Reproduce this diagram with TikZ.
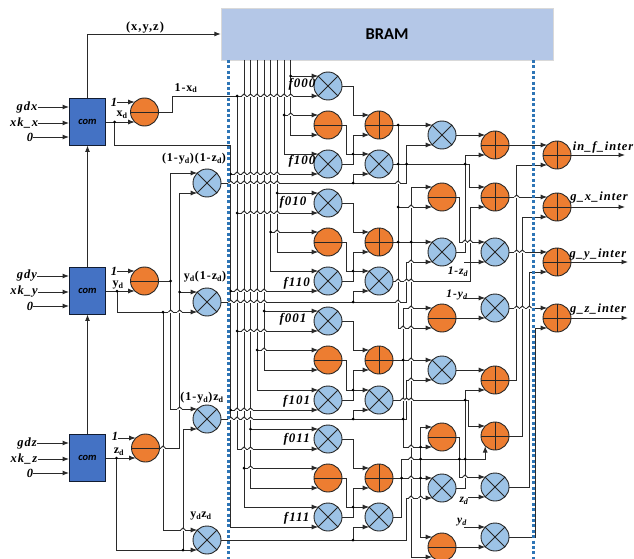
\documentclass[tikz,border=0pt]{standalone}
\usepackage{fontspec}
\setmainfont{Liberation Serif}
\newfontfamily\labfont[LetterSpace=8]{Liberation Serif}
\newfontfamily\carfont{Carlito}
\usetikzlibrary{arrows.meta}
\definecolor{bluec}{HTML}{9DC3E6}
\definecolor{orangec}{HTML}{ED7D31}
\definecolor{comc}{HTML}{4472C4}
\definecolor{bramc}{HTML}{B4C7E7}
\definecolor{dashc}{HTML}{2E75B6}
\definecolor{wirec}{HTML}{2A2A2A}
\tikzset{
  wire/.style={draw=wirec,line width=0.95pt},
  arr/.style={wire,-{Latex[length=6.5pt,width=5pt]}},
  round/.style={circle,draw=black!85,line width=0.9pt,minimum size=28pt,inner sep=0pt},
  mulc/.style={round,fill=bluec,path picture={
    \draw[black!85,line width=0.9pt] (path picture bounding box.north west)--(path picture bounding box.south east)
    (path picture bounding box.north east)--(path picture bounding box.south west);}},
  subc/.style={round,fill=orangec,path picture={
    \draw[black!85,line width=0.9pt] (path picture bounding box.west)--(path picture bounding box.east);}},
  addc/.style={round,fill=orangec,path picture={
    \draw[black!85,line width=0.9pt] (path picture bounding box.west)--(path picture bounding box.east)
    (path picture bounding box.north)--(path picture bounding box.south);}},
  combox/.style={rectangle,draw=black!75!comc,fill=comc,line width=0.9pt,minimum width=36pt,minimum height=47pt,inner sep=0pt,
     font=\carfont\bfseries\itshape\fontsize{10.5}{12}\selectfont},
  bdash/.style={draw=dashc,line width=2.1pt,dash pattern=on 3pt off 2.4pt},
  jn/.style={circle,fill=black,inner sep=0pt,minimum size=3pt},
  lab/.style={inner sep=0pt,font=\labfont\bfseries\itshape\fontsize{12.5}{14}\selectfont},
  flab/.style={inner sep=0pt,font=\labfont\bfseries\itshape\fontsize{13}{14}\selectfont},
  wlab/.style={inner sep=0pt,font=\labfont\bfseries\fontsize{12}{14}\selectfont},
  smalllab/.style={inner sep=0pt,font=\labfont\bfseries\itshape\fontsize{11.5}{13}\selectfont},
}
\newcommand{\unit}[4]{%
  \node[#1] (#2) at (#3,#4) {};
  \coordinate (#2-u) at (#3-9.8,#4-10);
  \coordinate (#2-l) at (#3-9.8,#4+10);}
\newcommand{\hops}[2]{\foreach \hx in {#2}{%
  \fill[white] (\hx-2.3,#1-0.8) rectangle (\hx+2.3,#1+0.8);
  \draw[wire] (\hx-2.3,#1) .. controls (\hx-1.5,#1-2.6) and (\hx+1.5,#1-2.6) .. (\hx+2.3,#1);}}
\newcommand{\sbd}{\textsubscript{d}}
\newcommand{\group}[5]{%
  \draw[arr] (#1.east) -| (xj |- #4-u) -- (#4-u);
  \draw[arr] (#2.east) -| (xk |- #5-u) -- (#5-u);
  \draw[arr] (#3.east) -| (xj |- #4-l) -- (#4-l);
  \node[jn,minimum size=2.6pt] at (xj |- #5-u) {};}
\begin{document}
\begin{tikzpicture}[x=1pt,y=-1pt]
\useasboundingbox (0,0) rectangle (634,559);
% BRAM
\node[rectangle,draw=black!15,fill=bramc,minimum width=332pt,minimum height=52pt,inner sep=0pt,
  font=\carfont\bfseries\fontsize{16.5}{18}\selectfont] (bram) at (387,34) {BRAM};
\coordinate (dl) at (228.5,60); \coordinate (dle) at (228.5,559);
\coordinate (dr) at (533.5,60); \coordinate (dre) at (533.5,559);
% com blocks
\node[combox] (com1) at (87.5,121.5) {com};
\node[combox] (com2) at (87.5,290.5) {com};
\node[combox] (com3) at (87.5,458) {com};
% left circles
\unit{subc}{sx}{144.5}{112}
\unit{subc}{sy}{144.5}{281}
\unit{subc}{sz}{145.5}{448}
\unit{mulc}{t1}{207}{183}
\unit{mulc}{t2}{207}{302}
\unit{mulc}{t3}{207}{419}
\unit{mulc}{t4}{207}{540}
% column 1
\unit{mulc}{f000}{328}{86}
\unit{subc}{oa}{328}{125}
\unit{mulc}{f100}{328}{164}
\unit{mulc}{f010}{328}{203}
\unit{subc}{ob}{328}{242}
\unit{mulc}{f110}{328}{281}
\unit{mulc}{f001}{328}{321}
\unit{subc}{oc}{328}{360}
\unit{mulc}{f101}{328}{400}
\unit{mulc}{f011}{328}{439}
\unit{subc}{od}{328}{478}
\unit{mulc}{f111}{328}{517}
% column 2
\unit{addc}{pa}{379}{125}
\unit{mulc}{ta}{379}{164}
\unit{addc}{pb}{379}{242}
\unit{mulc}{tb}{379}{281}
\unit{addc}{pc}{379}{360}
\unit{mulc}{tc}{379}{400}
\unit{addc}{pd}{379}{478}
\unit{mulc}{td}{379}{517}
% column 3
\unit{mulc}{m1}{442}{135}
\unit{subc}{m2}{442}{197}
\unit{mulc}{m3}{442}{252}
\unit{subc}{m4}{442}{318}
\unit{mulc}{m5}{442}{370}
\unit{subc}{m6}{442}{437}
\unit{mulc}{m7}{442}{488}
\unit{subc}{m8}{442}{547}
% column 4
\unit{addc}{q1}{495}{145}
\unit{addc}{q2}{495}{197}
\unit{mulc}{q3}{495}{252}
\unit{mulc}{q4}{495}{308}
\unit{addc}{q5}{495}{380}
\unit{addc}{q6}{495}{436}
\unit{mulc}{q7}{495}{487}
\unit{mulc}{q8}{495}{537}
% column 5
\unit{addc}{r1}{557}{155}
\unit{addc}{r2}{557}{207}
\unit{addc}{r3}{557}{262}
\unit{addc}{r4}{557}{318}
% input labels
\node[lab] (igdx) at (27,107) {gdx};
\node[lab] (ixkx) at (24,123) {xk\_x};
\node[lab] (izx) at (30,137) {0};
\node[lab] (igdy) at (27,276) {gdy};
\node[lab] (ixky) at (24,292) {xk\_y};
\node[lab] (izy) at (30,306) {0};
\node[lab] (igdz) at (27,443) {gdz};
\node[lab] (ixkz) at (24,459) {xk\_z};
\node[lab] (izz) at (30,473) {0};
\foreach \a/\b in {igdx/com1,ixkx/com1,izx/com1,igdy/com2,ixky/com2,izy/com2,igdz/com3,ixkz/com3,izz/com3}
  \draw[arr] (\a.east) -- (\b.west |- \a.east);
% com chain
\draw[arr] (com3.north) -- (com2.south);
\draw[arr] (com2.north) -- (com1.south);
\coordinate (xyzc) at (87.5,34);
\draw[arr] (com1.north) -- (xyzc) -- (bram.west |- xyzc);
\node[wlab,font=\labfont\bfseries\fontsize{12.5}{14}\selectfont] (xyzl) at (145,28) {(x,y,z)};
% subtractor inputs
\node[lab] (one1) at (114,102) {1};
\node[lab] (one2) at (114,271) {1};
\node[lab] (one3) at (115,436.5) {1};
\draw[arr] (one1.east |- sx-u) -- (sx-u);
\draw[arr] (one2.east |- sy-u) -- (sy-u);
\draw[arr] (one3.east |- sz-u) -- (sz-u);
\draw[arr] (com1.east |- sx-l) -- (sx-l);
\draw[arr] (com2.east |- sy-l) -- (sy-l);
\draw[arr] (com3.east |- sz-l) -- (sz-l);
% coordinates of the vertical buses
\foreach \n/\x in {b1/290.7,b2/284,b3/277,b4/270.5,b5/264,b6/257,b7/250.5,b8/244}
  \coordinate (\n) at (\x,60);
\coordinate (xj) at (353,0);
\coordinate (xk) at (346.7,0);
% data buses
\draw[arr] (b1) |- (oa-l);
\draw[arr] (b1 |- f000-u) -- (f000-u);
\draw[arr] (b2) |- (f100-u);
\draw[arr] (b2 |- oa-u) -- (oa-u);
\draw[arr] (b3) |- (ob-l);
\draw[arr] (b3 |- f010-u) -- (f010-u);
\draw[arr] (b4) |- (f110-u);
\draw[arr] (b4 |- ob-u) -- (ob-u);
\draw[arr] (b5) |- (oc-l);
\draw[arr] (b5 |- f001-u) -- (f001-u);
\draw[arr] (b6) |- (f101-u);
\draw[arr] (b6 |- oc-u) -- (oc-u);
\draw[arr] (b7) |- (od-l);
\draw[arr] (b7 |- f011-u) -- (f011-u);
\draw[arr] (b8) |- (f111-u);
\draw[arr] (b8 |- od-u) -- (od-u);
\foreach \a/\b in {b1/f000-u,b2/oa-u,b3/f010-u,b4/ob-u,b5/f001-u,b6/oc-u,b7/f011-u,b8/od-u}
  \node[jn] at (\a |- \b) {};
% 1-xd bus
\coordinate (jog) at (172,96);
\coordinate (vo) at (237,96);
\draw[arr] (sx.east) -| (jog) -- (f000-l);
\draw[arr] (vo) |- (f011-l);
\draw[arr] (vo |- f010-l) -- (f010-l);
\draw[arr] (vo |- f001-l) -- (f001-l);
\node[jn] at (vo) {};
\node[jn] at (vo |- f010-l) {};
\node[jn] at (vo |- f001-l) {};
% xd bus
\coordinate (jx) at (114.5,122);
\coordinate (vx) at (230.7,145);
\draw[arr] (jx) |- (vx) |- (f111-l);
\draw[arr] (vx |- f100-l) -- (f100-l);
\draw[arr] (vx |- f110-l) -- (f110-l);
\draw[arr] (vx |- f101-l) -- (f101-l);
\node[jn] at (jx) {};
\node[jn] at (vx |- f100-l) {};
\node[jn] at (vx |- f110-l) {};
\node[jn] at (vx |- f101-l) {};
% weights
\coordinate (vy) at (170.7,281);
\coordinate (vz) at (179.7,448);
\coordinate (jy) at (117,291);
\coordinate (jz) at (116.5,458);
\coordinate (jyy) at (163,312);
\coordinate (jzz) at (183,550);
\draw[wire] (sy.east) -- (vy);
\draw[arr] (vy) |- (t1-u);
\draw[arr] (vy) |- (t3-u);
\draw[wire] (sz.east) -- (vz);
\draw[arr] (vz) |- (t1-l);
\draw[arr] (vz |- t2-u) -- (t2-u);
\draw[arr] (jy) |- (t2-l);
\draw[arr] (jyy) |- (t4-u);
\draw[arr] (jz) |- (t4-l);
\draw[arr] (jzz) |- (t3-l);
\foreach \c in {vy,jy,jz,jyy,jzz} \node[jn] at (\c) {};
\node[jn] at (vz |- t2-u) {};
\hops{312}{170.7,179.7}
\hops{409}{179.7}
\hops{448}{163}
\hops{530}{183}
% weight outputs
\coordinate (w1) at (406.7,183);
\coordinate (w2) at (406.7,302);
\coordinate (w3) at (406.7,419);
\coordinate (w4) at (406.7,540);
\draw[arr] (t1.east) -- (w1) |- (m1-l);
\draw[arr] (t2.east) -- (w2) |- (m3-l);
\draw[arr] (t3.east) -- (w3) |- (m5-l);
\draw[arr] (t4.east) -- (w4) |- (m7-l);
\draw[arr] (xj |- t1.east) -- (xj |- ta-l) -- (ta-l);
\draw[arr] (xj |- t2.east) -- (xj |- tb-l) -- (tb-l);
\draw[arr] (xj |- t3.east) -- (xj |- tc-l) -- (tc-l);
\draw[arr] (xj |- t4.east) -- (xj |- td-l) -- (td-l);
\foreach \c in {t1,t2,t3,t4} \node[jn] at (xj |- \c.east) {};
% groups
\group{f000}{oa}{f100}{pa}{ta}
\group{f010}{ob}{f110}{pb}{tb}
\group{f001}{oc}{f101}{pc}{tc}
\group{f011}{od}{f111}{pd}{td}
% column 2 outputs
\coordinate (xa) at (398,125);
\coordinate (xb) at (411,242);
\coordinate (xc) at (403,360);
\coordinate (xd) at (420.7,478);
\draw[arr] (pa.east) -- (m1-u);
\draw[arr] (xa) |- (m4-l);
\draw[arr] (xa |- m2-l) -- (m2-l);
\draw[arr] (pb.east) -- (m3-u);
\draw[arr] (xb) |- (m2-u);
\draw[arr] (xb) |- (m8-l);
\draw[arr] (pc.east) -- (m5-u);
\draw[arr] (xc) |- (m4-u);
\draw[arr] (xc) |- (m6-l);
\draw[arr] (pd.east) -- (m7-u);
\draw[arr] (xd) |- (m6-u);
\draw[arr] (xd) |- (m8-u);
\foreach \c in {xa,xb,xc,xd} \node[jn] at (\c) {};
\node[jn] at (xa |- m2-l) {};
\node[jn] at (xa |- m3-u) {};
% times outputs to column 4
\coordinate (ya) at (469.5,164);
\coordinate (yb) at (470,281);
\coordinate (yc) at (468.5,400);
\coordinate (yd) at (401.7,459);
\draw[arr] (ta.east) -- (ya) |- (q2-u);
\draw[arr] (tb.east) -- (yb) |- (q2-l);
\draw[arr] (tc.east) -- (yc) |- (q6-u);
\draw[arr] (td.east) -| (yd) -| (q6-l);
\coordinate (ja) at (465,155);
\coordinate (jb) at (465,390);
\coordinate (jc) at (459.3,242);
\coordinate (jd) at (459.3,477);
\draw[arr] (m3.east) -| (ja) -- (q1-l);
\draw[arr] (m7.east) -| (jb) -- (q5-l);
\draw[arr] (m2.east) -| (jc) -- (q3-u);
\draw[arr] (m6.east) -| (jd) -- (q7-u);
\node[jn] at (398,164) {};
\node[jn] at (406.7,164) {};
\node[jn] at (465,164) {};
\node[jn] at (465,400) {};
\node[jn] at (403,419) {};
\node[jn] at (401.7,478) {};
\node[jn] at (420.7,447) {};
\node[jn] at (420.7,459) {};
\node[jn] at (459.3,459) {};
\node[jn] at (465,459) {};
\draw[arr] (m1.east) -- (q1-u);
\draw[arr] (m4.east) -- (q4-l);
\draw[arr] (m5.east) -- (q5-u);
\draw[arr] (m8.east) -- (q8-l);
% free inputs of column 4
\coordinate (s1) at (464,262);
\coordinate (s2) at (464,298);
\coordinate (s3) at (468,497);
\coordinate (s4) at (464,527);
\draw[arr] (s1) -- (q3-l);
\draw[arr] (s2) -- (q4-u);
\draw[arr] (s3) -- (q7-l);
\draw[arr] (s4) -- (q8-u);
% column 5
\draw[arr] (q1.east) -- (r1-u);
\draw[arr] (q2.east) -- (r2-u);
\draw[arr] (q3.east) -- (r3-u);
\draw[arr] (q4.east) -- (r4-u);
\coordinate (z1) at (516.7,165);
\coordinate (z2) at (522.3,217);
\coordinate (z3) at (529.3,272);
\coordinate (z4) at (535.5,328);
\draw[arr] (q5.east) -| (z1) -- (r1-l);
\draw[arr] (q6.east) -| (z2) -- (r2-l);
\draw[arr] (q7.east) -| (z3) -- (r3-l);
\draw[arr] (q8.east) -| (z4) -- (r4-l);
\coordinate (e1) at (625,155);
\coordinate (e2) at (625,207);
\coordinate (e3) at (628,262);
\coordinate (e4) at (628,318);
\draw[arr] (r1.east) -- (e1);
\draw[arr] (r2.east) -- (e2);
\draw[arr] (r3.east) -- (e3);
\draw[arr] (r4.east) -- (e4);
% line hops
\hops{96}{244,250.5,257,264,270.5,277,284,290.7}
\hops{115}{290.7}
\hops{174}{237,244,250.5,257,264,270.5,277}
\hops{183}{230.7,237,244,250.5,257,264,270.5,277,398}
\hops{213}{244,250.5,257,264,270.5,277}
\hops{232}{277}
\hops{291}{237,244,250.5,257,264}
\hops{302}{230.7,237,244,250.5,257,264,398}
\hops{331}{244,250.5,257,264}
\hops{350}{264}
\hops{410}{237,244,250.5}
\hops{419}{230.7,237,244,250.5}
\hops{449}{244,250.5}
\hops{468}{250.5}
\hops{207}{411}
\hops{262}{411}
\hops{281}{398,406.7,411}
\hops{308}{411}
\hops{328}{403,411}
\hops{360}{411}
\hops{380}{411}
\hops{400}{403,406.7,411}
\hops{447}{411}
\hops{459}{411}
\hops{478}{411}
\hops{498}{411,420.7}
\hops{242}{465,470}
\hops{477}{465}
\hops{197}{516.7}
\hops{252}{516.7,522.3}
\hops{308}{516.7,522.3,529.3}
% dashed boundaries, over the wires
\draw[bdash] (dl) -- (dle);
\draw[bdash] (dr) -- (dre);
% labels
\node[wlab] (l1x) at (186,88) {1-x\sbd};
\node[wlab] (lxd) at (122,115) {x\sbd};
\node[wlab] (lyd) at (118,285) {y\sbd};
\node[wlab] (lzd) at (119,451.5) {z\sbd};
\node[wlab] (w1l) at (194,159) {(1-y\sbd)(1-z\sbd)};
\node[wlab] (w2l) at (205,277) {y\sbd(1-z\sbd)};
\node[wlab] (w3l) at (202,398) {(1-y\sbd)z\sbd};
\node[wlab] (w4l) at (201,516) {y\sbd z\sbd};
\node[flab] (lf000) at (302,84) {f000};
\node[flab] (lf100) at (302,161) {f100};
\node[flab] (lf010) at (293,202) {f010};
\node[flab] (lf110) at (296.7,283) {f110};
\node[flab] (lf001) at (293,319) {f001};
\node[flab] (lf101) at (296.7,401) {f101};
\node[flab] (lf011) at (296.7,439) {f011};
\node[flab] (lf111) at (296.7,518) {f111};
\node[smalllab] (lmz) at (458,272) {1-z\textsubscript{d}};
\node[smalllab] (lmy) at (457,295) {1-y\textsubscript{d}};
\node[smalllab] (lzz) at (464,501) {z\textsubscript{d}};
\node[smalllab] (lyy) at (462,522) {y\textsubscript{d}};
\node[lab] (nr1) at (603,147) {in\_f\_inter};
\node[lab] (nr2) at (599,197) {g\_x\_inter};
\node[lab] (nr3) at (598,255) {g\_y\_inter};
\node[lab] (nr4) at (598,309) {g\_z\_inter};
\end{tikzpicture}
\end{document}
